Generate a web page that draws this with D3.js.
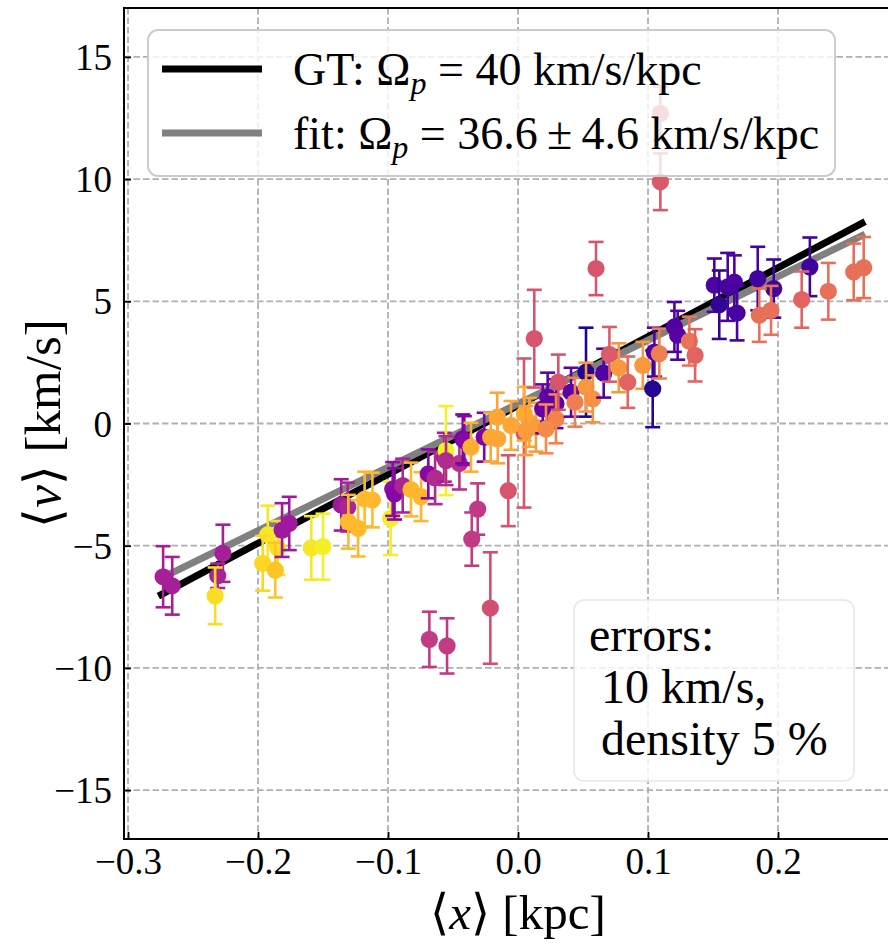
<!DOCTYPE html>
<html><head><meta charset="utf-8">
<script src="https://cdn.jsdelivr.net/npm/d3@7"></script>
<style>body{margin:0;background:#fff} svg{display:block}</style>
</head><body>
<script>
// ---- data ----
const xVals = [0.0046,-0.273,-0.266,-0.227,-0.231,-0.233,-0.1925,-0.1964,-0.1848,-0.1867,-0.1815,-0.176,-0.159,-0.150,-0.136,-0.131,-0.1305,-0.123,-0.118,-0.112,-0.098,-0.0964,-0.095,-0.0887,-0.0823,-0.0746,-0.069,-0.0638,-0.0567,-0.0554,-0.0554,-0.0451,-0.0425,-0.0413,-0.0362,-0.031,-0.0356,-0.0682,-0.0546,-0.0213,-0.0075,-0.026,-0.016,-0.0156,-0.021,-0.0054,0.0048,0.0087,0.006,0.0138,0.0125,0.0228,0.0292,0.019,0.0292,0.0215,0.031,0.0408,0.0438,0.0523,0.0523,0.0575,0.0659,0.0703,0.0775,0.0844,0.060,0.096,0.1036,0.1049,0.1087,0.1095,0.1095,0.1203,0.1228,0.1318,0.1362,0.151,0.1548,0.1613,0.1664,0.1685,0.1844,0.1967,0.1856,0.1946,0.2245,0.2182,0.2387,0.2582,0.2659];
const yVals = [-0.39,-6.27,-6.64,-5.31,-6.23,-7.05,-4.55,-5.72,-5.09,-6.0,-4.36,-4.09,-5.09,-5.04,-3.33,-3.42,-4.02,-4.29,-3.09,-3.13,-3.88,-2.68,-2.88,-2.54,-2.70,-2.99,-2.06,-2.23,-1.38,-1.11,-1.52,-1.63,-0.63,-0.70,-0.97,-3.50,-4.73,-8.83,-9.10,-7.55,-2.75,-0.56,0.26,-0.63,-0.56,-0.08,0.40,0.05,-0.29,-0.15,3.47,1.08,0.81,0.60,0.19,-0.22,1.69,1.28,0.87,2.10,1.49,1.01,2.06,2.83,2.28,1.69,6.34,2.38,1.42,2.92,2.86,12.69,9.89,3.95,3.61,3.37,2.79,5.66,4.86,5.59,5.79,4.52,5.93,5.52,4.43,4.63,6.41,5.07,5.41,6.20,6.38];
const yErrs = [3.05,1.25,1.18,1.17,0.5,1.16,1.19,1.12,1.1,1.12,1.1,1.09,1.3,1.35,1.05,1.0,1.1,1.15,1.12,1.12,1.5,1.1,1.05,1.1,1.1,1.0,1.0,1.07,1.0,1.82,1.0,1.07,1.0,1.0,1.0,1.05,1.09,1.13,1.13,2.28,1.45,1.0,1.0,1.0,1.0,1.0,1.1,1.0,1.0,1.0,2.0,1.0,1.0,1.0,1.0,1.0,1.13,1.0,1.0,1.82,1.0,0.96,1.0,1.12,1.0,1.05,1.09,0.96,1.57,1.0,1.02,1.1,1.16,1.02,1.0,1.0,1.07,1.09,1.4,1.39,1.09,1.12,1.3,1.19,1.09,1.0,1.2,1.15,1.16,1.16,1.25];
const colorVals = [0.55,0.36,0.36,0.36,0.38,0.93,0.96,0.92,0.94,0.88,0.34,0.34,0.96,0.98,0.34,0.38,0.85,0.85,0.85,0.85,0.97,0.3,0.27,0.38,0.84,0.84,0.28,0.4,0.36,0.98,0.4,0.42,0.24,0.28,0.82,0.45,0.46,0.46,0.46,0.53,0.55,0.25,0.8,0.8,0.8,0.8,0.82,0.8,0.77,0.77,0.55,0.17,0.17,0.2,0.7,0.72,0.55,0.17,0.68,0.03,0.76,0.74,0.14,0.57,0.76,0.6,0.55,0.76,0.04,0.14,0.68,0.56,0.56,0.13,0.15,0.65,0.6,0.13,0.07,0.11,0.13,0.11,0.1,0.1,0.64,0.64,0.09,0.6,0.64,0.64,0.64];
const gtX = [-0.2767, 0.267], gtY = [-7.06, 8.26];
const fitX = [-0.2705, 0.267], fitY = [-6.22, 7.75];
const xTicks = [-0.3,-0.2,-0.1,0.0,0.1,0.2];
const xTickLabels = ["\u22120.3","\u22120.2","\u22120.1","0.0","0.1","0.2"];
const yTicks = [15,10,5,0,-5,-10,-15];
const yTickLabels = ["15","10","5","0","\u22125","\u221210","\u221215"];
const legendLabels = [["GT: ", "40 km/s/kpc"], ["fit: ", "36.6", "4.6 km/s/kpc"]];
const noteLines = ["errors:", " 10 km/s,", " density 5 %"];

// ---- layout ----
const W = 888, H = 944;
const L = 124, T = 8, R = 888, B = 839;
const FONT = "'Liberation Serif','Times New Roman',serif";

const svg = d3.select("body").append("svg").attr("width", W).attr("height", H)
  .style("font-family", FONT);

const x = d3.scaleLinear().domain([-0.3031, 0.2846]).range([L, R]);
const y = d3.scaleLinear().domain([-17, 17]).range([B, T]);

// grid
const grid = svg.append("g");
grid.selectAll("line.gx").data(xTicks).join("line")
  .attr("x1", d => x(d)).attr("x2", d => x(d)).attr("y1", T).attr("y2", B);
grid.selectAll("line.gy").data(yTicks).join("line").attr("class","gy")
  .attr("x1", L).attr("x2", R).attr("y1", d => y(d)).attr("y2", d => y(d));
grid.selectAll("line").attr("stroke", "#b0b0b0").attr("stroke-width", 1.8)
  .attr("stroke-dasharray", "6.5,3");

// lines
const line = d3.line().x(d => x(d[0])).y(d => y(d[1]));
svg.append("path").attr("d", line(d3.zip(gtX, gtY))).attr("stroke", "#000").attr("stroke-width", 7).attr("fill", "none");
svg.append("path").attr("d", line(d3.zip(fitX, fitY))).attr("stroke", "#808080").attr("stroke-width", 7).attr("fill", "none");

// points with error bars
const pts = d3.range(xVals.length).map(i => ({x: xVals[i], y: yVals[i], e: yErrs[i], c: d3.interpolatePlasma(colorVals[i])}));
const pg = svg.append("g");
pts.forEach(p => {
  const g = pg.append("g");
  const cx = x(p.x);
  g.append("line").attr("x1", cx).attr("x2", cx).attr("y1", y(p.y - p.e)).attr("y2", y(p.y + p.e))
    .attr("stroke", p.c).attr("stroke-width", 2.6);
  [p.y - p.e, p.y + p.e].forEach(v => g.append("line").attr("x1", cx - 7.5).attr("x2", cx + 7.5)
    .attr("y1", y(v)).attr("y2", y(v)).attr("stroke", p.c).attr("stroke-width", 2.6));
  g.append("circle").attr("cx", cx).attr("cy", y(p.y)).attr("r", 8.6).attr("fill", p.c);
});

// axes
const xAxis = d3.axisBottom(x).tickValues(xTicks).tickFormat((d,i) => xTickLabels[i])
  .tickSizeInner(-7).tickSizeOuter(0).tickPadding(6);
const gx = svg.append("g").attr("transform", `translate(0,${B})`).call(xAxis);
const yAxis = d3.axisLeft(y).tickValues(yTicks).tickFormat((d,i) => yTickLabels[i])
  .tickSizeInner(-7).tickSizeOuter(0).tickPadding(12);
const gy = svg.append("g").attr("transform", `translate(${L},0)`).call(yAxis);
[gx, gy].forEach(g => {
  g.select(".domain").remove();
  g.selectAll(".tick line").attr("stroke", "#000").attr("stroke-width", 1.8);
  g.selectAll(".tick text").attr("font-size", 37).attr("font-family", FONT).attr("fill", "#000");
});
gx.selectAll(".tick text").attr("dy", "0.78em");
gy.selectAll(".tick text").attr("dy", "0.34em");

// spines
svg.append("rect").attr("x", L).attr("y", T).attr("width", R - L + 5).attr("height", B - T)
  .attr("fill", "none").attr("stroke", "#000").attr("stroke-width", 2);

// axis labels
const xl = svg.append("text").attr("x", x(0)).attr("y", 929).attr("text-anchor", "middle").attr("font-size", 49);
xl.append("tspan").text("\u27E8");
xl.append("tspan").attr("font-style", "italic").text("x");
xl.append("tspan").text("\u27E9 [kpc]");
const yl = svg.append("text").attr("transform", `translate(60,${y(0)}) rotate(-90)`).attr("text-anchor", "middle").attr("font-size", 51);
yl.append("tspan").text("\u27E8");
yl.append("tspan").attr("font-style", "italic").text("v");
yl.append("tspan").text("\u27E9 [km/s]");

// legend
const lg = svg.append("g");
lg.append("rect").attr("x", 148).attr("y", 30).attr("width", 687).attr("height", 146).attr("rx", 10)
  .attr("fill", "#fff").attr("fill-opacity", 0.8).attr("stroke", "#cccccc").attr("stroke-width", 2);
const legColors = ["#000", "#808080"];
const legY = [69, 133];
legY.forEach((ly, i) => {
  lg.append("line").attr("x1", 162).attr("x2", 262).attr("y1", ly).attr("y2", ly)
    .attr("stroke", legColors[i]).attr("stroke-width", 7);
  const t = lg.append("text").attr("x", 293).attr("y", ly + 16).attr("font-size", 46)
    .attr("xml:space", "preserve").style("white-space", "pre");
  const lab = legendLabels[i];
  t.append("tspan").text(lab[0] + "\u03A9");
  t.append("tspan").attr("font-style", "italic").attr("font-size", 32).attr("dy", 9).text("p");
  if (i === 0) {
    t.append("tspan").attr("dy", -9).text(" = " + lab[1]);
  } else {
    t.append("tspan").attr("dy", -9).text(" = " + lab[1] + "\u2009\u00B1\u2009" + lab[2]);
  }
});

// note box
const nb = svg.append("g");
nb.append("rect").attr("x", 574).attr("y", 600).attr("width", 280).attr("height", 181).attr("rx", 10)
  .attr("fill", "#fff").attr("fill-opacity", 0.8).attr("stroke", "#e6e6e6").attr("stroke-width", 1.5);
const nbY = [651, 703, 755];
noteLines.forEach((s, i) => nb.append("text").attr("x", 589).attr("y", nbY[i]).attr("font-size", 48)
  .attr("xml:space", "preserve").style("white-space", "pre").text(s));
</script>
</body></html>
